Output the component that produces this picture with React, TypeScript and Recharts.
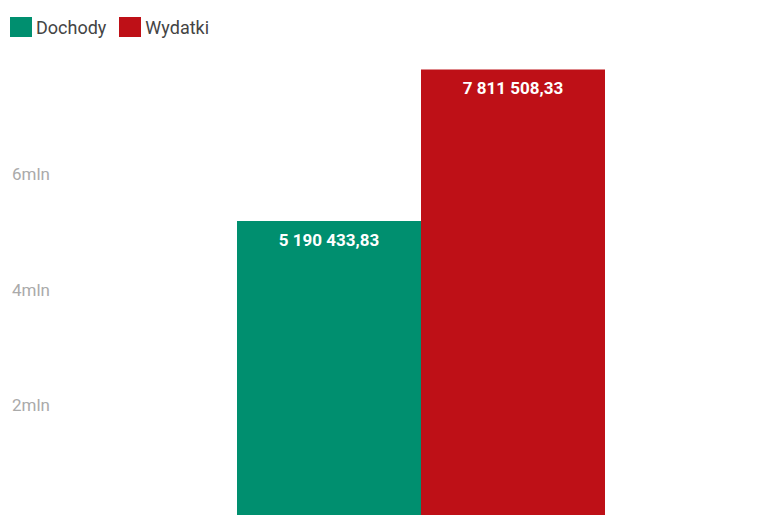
import React from "react";
import { BarChart, Bar, XAxis, YAxis, Legend, LabelList } from "recharts";

const categories = ["Budżet"];
const dochody = [5190433.83];
const wydatki = [7811508.33];
const yTicks = [2000000, 4000000, 6000000];

const seriesNames = { dochody: "Dochody", wydatki: "Wydatki" };
const colors = { dochody: "#008F6F", wydatki: "#BE1017" };

const data = categories.map((c, i) => ({ name: c, dochody: dochody[i], wydatki: wydatki[i] }));

const fmt = (v: number) => {
  const [int, dec] = v.toFixed(2).split(".");
  return int.replace(/\B(?=(\d{3})+(?!\d))/g, " ") + "," + dec;
};

const FONT = "Roboto, 'Noto Sans', sans-serif";

const YTick = (props: any) => {
  const { y, payload } = props;
  return (
    <text x={12} y={y} dy={6} textAnchor="start" fill="#aaaaaa" fontSize={17} fontFamily={FONT}>
      {payload.value / 1000000 + "mln"}
    </text>
  );
};

const BarLabel = (props: any) => {
  const { x, y, width, value } = props;
  return (
    <text x={x + width / 2} y={y + 25} textAnchor="middle" fill="#ffffff" fontSize={17} fontWeight={700} fontFamily={FONT}>
      {fmt(value)}
    </text>
  );
};

const LegendContent = (props: any) => {
  const { payload } = props;
  return (
    <div style={{ display: "flex", alignItems: "center", height: 40, paddingLeft: 10, fontFamily: FONT }}>
      {payload.map((p: any) => (
        <div key={p.value} style={{ display: "flex", alignItems: "center", marginRight: 13 }}>
          <div style={{ width: 22, height: 20, background: p.color, marginRight: 4 }} />
          <span style={{ color: "#444", fontSize: 18 }}>{p.value}</span>
        </div>
      ))}
    </div>
  );
};

export default function App() {
  return (
    <div style={{ position: "absolute", left: 0, top: 0 }}>
      <BarChart
        width={776}
        height={521}
        data={data}
        margin={{ top: 18.5, right: 0, bottom: 0, left: 0 }}
        barGap={0}
      >
        <Legend verticalAlign="top" align="left" content={<LegendContent />} wrapperStyle={{ top: 7, left: 0 }} />
        <XAxis dataKey="name" hide />
        <YAxis
          width={65}
          domain={[0, 8000000]}
          ticks={yTicks}
          axisLine={false}
          tickLine={false}
          tick={<YTick />}
        />
        <Bar dataKey="dochody" name={seriesNames.dochody} fill={colors.dochody} barSize={184} isAnimationActive={false}>
          <LabelList dataKey="dochody" content={<BarLabel />} />
        </Bar>
        <Bar dataKey="wydatki" name={seriesNames.wydatki} fill={colors.wydatki} barSize={184} isAnimationActive={false}>
          <LabelList dataKey="wydatki" content={<BarLabel />} />
        </Bar>
      </BarChart>
    </div>
  );
}
